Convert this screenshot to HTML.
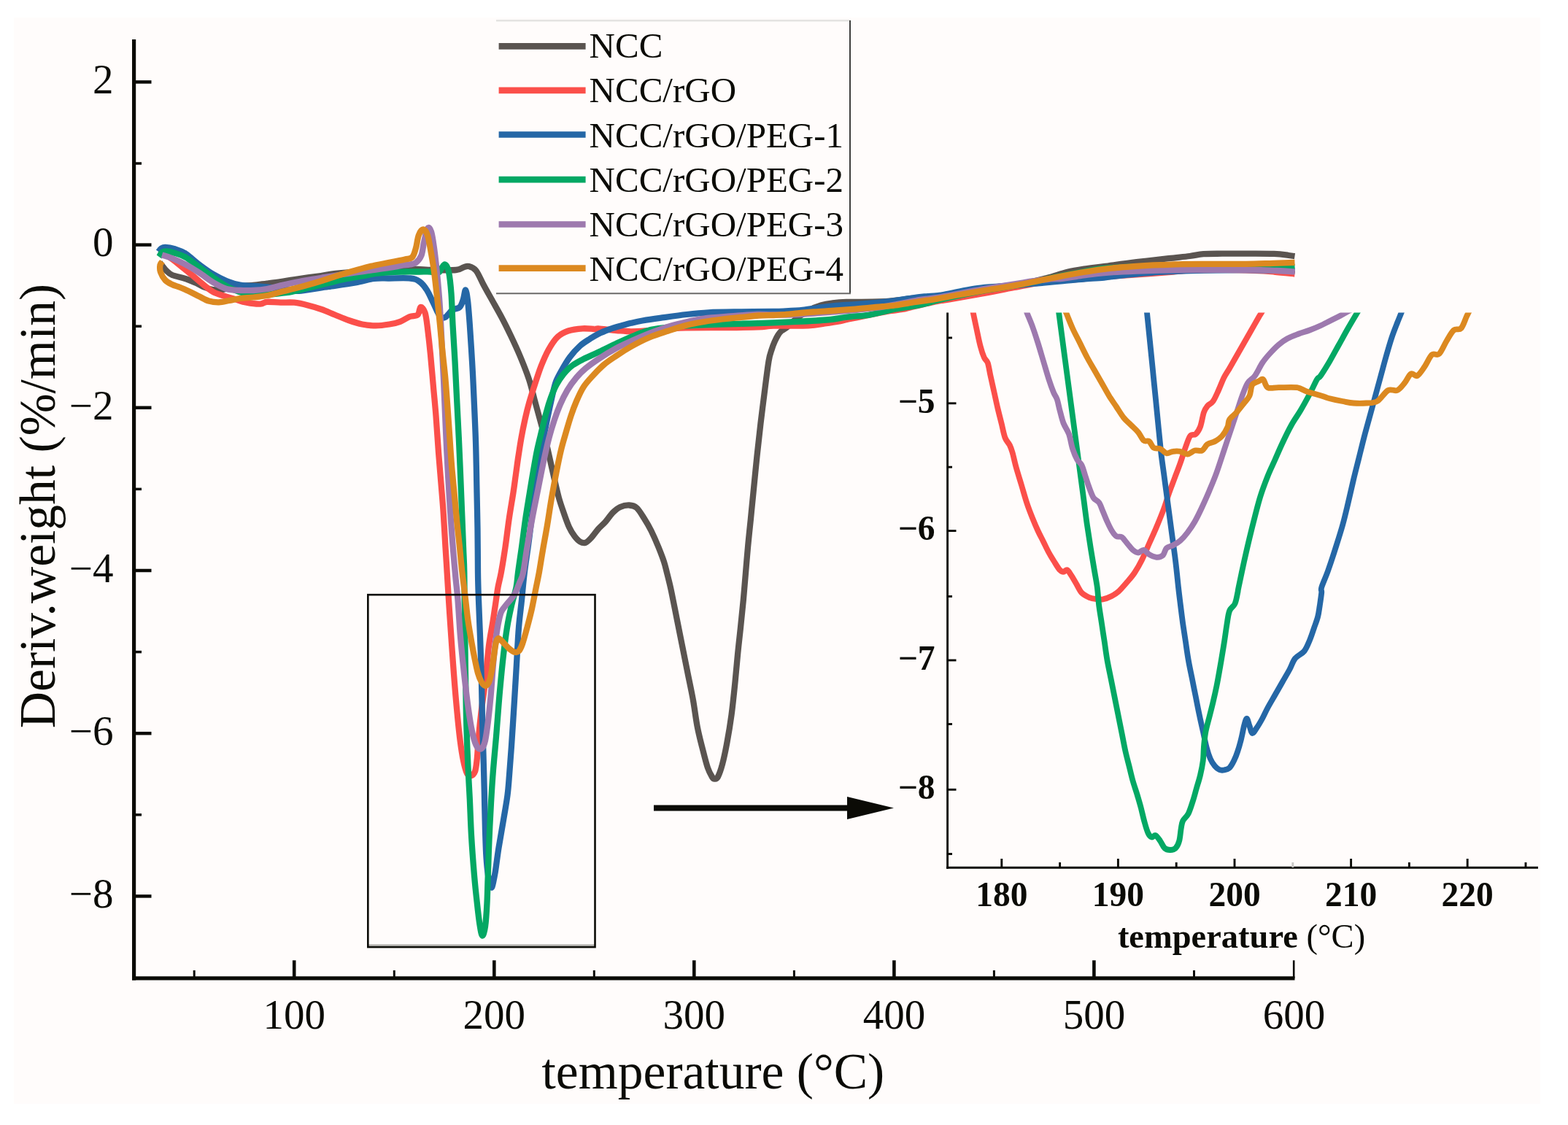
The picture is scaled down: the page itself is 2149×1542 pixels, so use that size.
<!DOCTYPE html>
<html lang="en"><head><meta charset="utf-8"><title>DTG curves</title>
<style>
html,body{margin:0;padding:0;background:#fff;}
body{width:2149px;height:1542px;overflow:hidden;position:relative;font-family:"Liberation Serif",serif;}
#chart{position:absolute;left:0;top:0;width:2149px;height:1542px;display:block;}
#chart text{font-family:"Liberation Serif",serif;fill:#0b0b06;}
.tk{font-size:57px;}
.ttl{font-size:69.5px;}
.lg{font-size:49px;}
.itk{font-size:47.5px;font-weight:bold;}
.ittl{font-size:46.5px;font-weight:bold;}
.curve{fill:none;stroke-width:8.3;stroke-linejoin:round;stroke-linecap:butt;}
</style></head><body>
<svg id="chart" width="2149" height="1542" viewBox="0 0 2149 1542">
<rect x="0" y="0" width="2149" height="1542" fill="#ffffff"/>
<rect x="19" y="24" width="2092" height="1489" fill="#fffcfb"/>
<g id="legend">
<line x1="680" y1="28.3" x2="1166" y2="28.3" stroke="#e4e3e1" stroke-width="2.6"/>
<line x1="1165" y1="28" x2="1165" y2="403" stroke="#3f3f3d" stroke-width="2"/>
<line x1="680" y1="402.3" x2="1166" y2="402.3" stroke="#6b6a68" stroke-width="2"/>
<line x1="683.6" y1="63.4" x2="802.6" y2="63.4" stroke="#5a5450" stroke-width="8.6" stroke-linecap="butt"/>
<text class="lg" x="807.6" y="78.8">NCC</text>
<line x1="683.6" y1="123.9" x2="802.6" y2="123.9" stroke="#fb4f4a" stroke-width="8.6" stroke-linecap="butt"/>
<text class="lg" x="807.6" y="140">NCC/rGO</text>
<line x1="683.6" y1="184.5" x2="802.6" y2="184.5" stroke="#2567a6" stroke-width="8.6" stroke-linecap="butt"/>
<text class="lg" x="807.6" y="202">NCC/rGO/PEG-1</text>
<line x1="683.6" y1="246.1" x2="802.6" y2="246.1" stroke="#03a864" stroke-width="8.6" stroke-linecap="butt"/>
<text class="lg" x="807.6" y="262.5">NCC/rGO/PEG-2</text>
<line x1="683.6" y1="307.5" x2="802.6" y2="307.5" stroke="#9d79ae" stroke-width="8.6" stroke-linecap="butt"/>
<text class="lg" x="807.6" y="323.8">NCC/rGO/PEG-3</text>
<line x1="683.6" y1="367.6" x2="802.6" y2="367.6" stroke="#dc8920" stroke-width="8.6" stroke-linecap="butt"/>
<text class="lg" x="807.6" y="385">NCC/rGO/PEG-4</text>
</g>
<g id="main-curves">
<path class="curve" stroke="#5a5450" d="M219 360C220.5 361.8 225.2 368.2 228 371C230.8 373.8 231.7 375.2 236 377C240.3 378.8 248.5 380.2 254 382C259.5 383.8 264.5 386 269 388C273.5 390 277.2 392.5 281 394C284.8 395.5 288 396.5 292 397C296 397.5 300.3 397.7 305 397C309.7 396.3 313 394 320 393C327 392 339.3 391.8 347 391C354.7 390.2 359.7 389.3 366 388.5C372.3 387.7 378.7 386.9 385 386C391.3 385.1 394.8 384.3 404 383C413.2 381.7 430.7 379.3 440 378C449.3 376.7 450 376 460 375C470 374 486.7 372.8 500 372C513.3 371.2 529.7 370.6 540 370C550.3 369.4 553.7 368.5 562 368.5C570.3 368.5 579.5 369.8 590 370C600.5 370.2 617.5 370.6 625 370C632.5 369.4 632.1 367.3 635 366.5C637.9 365.7 639.6 364.2 642.5 365C645.4 365.8 649.2 366.8 652.5 371C655.8 375.2 658.8 383.1 662.5 390C666.2 396.9 670.8 405 675 412.5C679.2 420 683.3 427.1 687.5 435C691.7 442.9 695.8 451.2 700 460C704.2 468.8 708.3 477.5 712.5 487.5C716.7 497.5 721.7 510 725 520C728.3 530 730 538.3 732.5 547.5C735 556.7 737.5 565.8 740 575C742.5 584.2 745.2 593.3 747.5 602.5C749.8 611.7 751.7 620.8 753.8 630C755.8 639.2 758 648.8 760 657.5C762 666.2 763.9 675 766 682.5C768.1 690 770.2 695.8 772.5 702.5C774.8 709.2 777.5 717.1 780 722.5C782.5 727.9 785 731.7 787.5 735C790 738.3 792.5 741 795 742.5C797.5 744 800 744.6 802.5 743.8C805 742.9 807.1 740.6 810 737.5C812.9 734.4 816.7 728.8 820 725C823.3 721.2 826.7 718.8 830 715C833.3 711.2 836.7 705.8 840 702.5C843.3 699.2 846.2 696.7 850 695C853.8 693.3 858.8 692.3 862.5 692.5C866.2 692.7 869.2 693.1 872.5 696C875.8 698.9 879.2 704.8 882.5 710C885.8 715.2 889.2 720.8 892.5 727.5C895.8 734.2 899.6 742.9 902.5 750C905.4 757.1 908.1 764.2 910 770C911.9 775.8 912.3 778.3 914 785C915.7 791.7 917.8 799.6 920 810C922.2 820.4 925 835 927.5 847.5C930 860 932.5 872.5 935 885C937.5 897.5 940 910 942.5 922.5C945 935 947.8 947.5 950 960C952.2 972.5 953.7 985.8 956 997.5C958.3 1009.2 961.4 1020.8 963.8 1030C966.1 1039.2 968 1046.7 970 1052.5C972 1058.3 974.5 1062.5 976 1065C977.5 1067.5 978 1067.5 979.2 1067.5C980.5 1067.5 982 1068.3 983.8 1065C985.5 1061.7 988 1055 990 1047.5C992 1040 993.9 1031.2 996 1020C998.1 1008.8 1000.6 994.2 1002.5 980C1004.4 965.8 1006.1 948.8 1007.5 935C1008.9 921.2 1009.8 910 1011 897.5C1012.2 885 1013.7 872.5 1015 860C1016.3 847.5 1017.6 835 1018.8 822.5C1019.9 810 1021 797.1 1022 785C1023 772.9 1023.9 762.1 1025 750C1026.1 737.9 1027.5 725 1028.8 712.5C1030 700 1031 689.6 1032.5 675C1034 660.4 1035.8 640.8 1037.5 625C1039.2 609.2 1040.8 594.2 1042.5 580C1044.2 565.8 1045.7 554.2 1047.5 540C1049.3 525.8 1051.8 505.3 1053.5 495C1055.2 484.7 1056.6 482.6 1058 478C1059.4 473.4 1060.6 470.8 1062 467.6C1063.4 464.4 1065 461.4 1066.5 459C1068 456.6 1069.1 455.2 1071 453.5C1072.9 451.8 1074.8 451.6 1078 449C1081.2 446.4 1084.7 442.1 1090 438C1095.3 433.9 1104.2 427.8 1110 424.5C1115.8 421.2 1120 420 1125 418.5C1130 417 1134.2 416.2 1140 415.5C1145.8 414.8 1149.2 414.3 1160 414C1170.8 413.7 1193.3 413.9 1205 413.5C1216.7 413.1 1222.5 412.2 1230 411.5C1237.5 410.8 1240 410.1 1250 409C1260 407.9 1274 407 1290 405C1306 403 1327.4 399.8 1346 397C1364.6 394.2 1386.9 391.2 1401.7 388.5C1416.5 385.8 1424.8 383.6 1435 381C1445.2 378.4 1453.8 375 1463 372.8C1472.2 370.6 1481.7 369.3 1490 368C1498.3 366.7 1501.7 366.7 1513 365.2C1524.3 363.7 1542.9 361 1557.7 359.2C1572.5 357.4 1589.6 355.6 1601.7 354.2C1613.8 352.8 1622.6 352 1630.6 351C1638.5 350 1642 348.8 1649.4 348.2C1656.8 347.6 1666.6 347.8 1675 347.7C1683.4 347.6 1688.2 347.7 1700 347.7C1711.8 347.7 1735 347.5 1746 347.9C1757 348.3 1761.2 349.4 1766 350C1770.8 350.6 1773.1 351 1774.5 351.2"/>
<path class="curve" stroke="#fb4f4a" d="M217 346C218.3 346.3 221.7 346.3 225 348C228.3 349.7 232.7 352.8 237 356C241.3 359.2 246.2 363.4 250.7 367C255.2 370.6 259.4 373.9 263.8 377.5C268.2 381.1 272.2 384.9 276.8 388.6C281.4 392.3 286.7 397 291.7 399.8C296.7 402.6 301.6 403.7 306.6 405.4C311.7 407.1 316.8 408.4 322 410C327.2 411.6 332.2 413.6 338 414.7C343.8 415.8 352.1 416.8 356.8 416.6C361.5 416.5 361.4 414.1 366 413.8C370.6 413.5 378.5 414.6 384.7 414.7C390.9 414.8 397.2 414.1 403.4 414.7C409.6 415.3 415.8 416.8 422 418.4C428.2 419.9 434.4 421.8 440.6 424C446.8 426.2 452.8 429 459 431.5C465.2 434 471.6 436.8 477.8 439C484 441.2 490.2 443.3 496.4 444.5C502.6 445.7 508.8 446.4 515 446.4C521.2 446.4 528 445.4 533.6 444.5C539.2 443.6 543.8 442.6 548.5 440.8C553.2 439.1 557.6 435.6 561.6 434C565.6 432.4 570 433.7 572.5 431.5C575 429.3 574.8 421.5 576.5 421C578.2 420.5 580.9 423.7 582.5 428.5C584.1 433.3 584.8 440.4 586 450C587.2 459.6 588.7 472.9 590 486C591.3 499.1 592.5 514.5 593.8 528.5C595 542.5 596.3 554.8 597.5 570C598.7 585.2 599.8 604.6 601 620C602.2 635.4 603.4 649.2 604.5 662.5C605.6 675.8 606.5 685.4 607.5 700C608.5 714.6 609.6 735.8 610.5 750C611.4 764.2 612 772.9 612.7 785C613.5 797.1 614.2 810 615 822.5C615.8 835 616.5 845.4 617.5 860C618.5 874.6 619.8 893.3 621 910C622.2 926.7 623.5 943.3 625 960C626.5 976.7 628.3 996.2 630 1010C631.7 1023.8 633.3 1034.2 635 1042.5C636.7 1050.8 638.3 1056.5 640 1060C641.7 1063.5 643.2 1063.9 645 1063.5C646.8 1063.1 649.5 1061.4 651 1057.5C652.5 1053.6 652.9 1047.9 653.8 1040C654.6 1032.1 655 1021.3 656 1010C657 998.7 658.5 984.5 660 972C661.5 959.5 663.3 949.5 665 935C666.7 920.5 668.3 898.3 670 885C671.7 871.7 673.5 864.2 675 855C676.5 845.8 677.5 838.3 678.8 830C680 821.7 681.2 812.5 682.5 805C683.8 797.5 685.1 794.2 686.8 785C688.5 775.8 690.7 762.1 692.5 750C694.3 737.9 695.7 725 697.5 712.5C699.3 700 701.9 685.4 703.5 675C705.1 664.6 705.8 658.3 707 650C708.2 641.7 709.2 633.3 710.5 625C711.8 616.7 713 608.3 714.5 600C716 591.7 717.7 583.2 719.5 575C721.3 566.8 723.2 559 725.5 551C727.8 543 730.3 535.2 733 527C735.7 518.8 738.4 509.9 741.5 502C744.6 494.1 748 486.1 751.7 479.4C755.5 472.7 759.5 466.3 764 462C768.5 457.7 773 455.4 778.8 453.5C784.5 451.6 792.5 450.7 798.5 450.3C804.5 449.9 811.4 451 815 451C818.6 451 815 450.1 820 450.4C825 450.7 837.5 452.4 845 453C852.5 453.6 857.5 454.3 865 454.3C872.5 454.3 880.8 453.6 890 453C899.2 452.4 911.7 451.1 920 450.5C928.3 449.9 926.7 449.6 940 449.3C953.3 449.1 982.5 449.2 1000 449C1017.5 448.8 1035 448.4 1045 448C1055 447.6 1049.5 446.9 1060 446.6C1070.5 446.3 1096.3 446.8 1108 446.3C1119.7 445.8 1123.1 444.5 1130.4 443.5C1137.7 442.5 1146.2 441.2 1151.6 440.2C1157 439.2 1158.4 438.3 1162.7 437.4C1167 436.5 1170.2 436 1177.3 434.6C1184.3 433.2 1197.9 430.4 1205 429C1212.1 427.6 1214.5 427 1219.7 426.2C1225 425.4 1231.5 424.9 1236.5 424C1241.5 423.1 1244.1 422.1 1250 420.7C1255.9 419.3 1265.3 417.1 1272 415.6C1278.7 414.2 1285.2 412.9 1290 412C1294.8 411.1 1291.7 412.1 1301 410.5C1310.3 408.9 1331.2 405.2 1346 402.5C1360.8 399.8 1376 396.6 1390 394C1404 391.4 1415 388.7 1430 386.8C1445 384.9 1463 383.9 1480 382.5C1497 381.1 1516 379.4 1532 378.2C1548 376.9 1563.3 375.9 1576 375C1588.7 374.1 1598.5 373.3 1608 372.5C1617.5 371.7 1621.3 370.8 1633 370.3C1644.7 369.9 1663.5 369.7 1678 369.8C1692.5 369.9 1708.7 370.4 1720 370.8C1731.3 371.2 1736.9 371.7 1746 372.5C1755.1 373.3 1769.8 375 1774.5 375.5"/>
<path class="curve" stroke="#2567a6" d="M217.2 345C217.8 344.2 219.4 341.5 221 340.5C222.6 339.5 223.4 338.7 226.5 338.8C229.6 338.9 234.9 339.7 239.6 341.2C244.3 342.7 248.9 344.1 254.5 347.7C260.1 351.3 266.8 358 273 362.6C279.2 367.2 285.5 371.9 291.7 375.6C297.9 379.3 304.1 382.5 310.3 385C316.5 387.5 319.7 389.1 329 390.5C338.3 391.9 354.2 392.2 366 393.5C377.8 394.8 392.2 397.2 400 398C407.8 398.8 404.4 399.3 412.7 398.5C421 397.7 437.6 394.8 450 393C462.4 391.2 476.6 389.3 487 387.5C497.4 385.7 504.7 383 512.5 382C520.3 381 525.3 381.6 533.6 381.5C541.9 381.4 555.6 380.8 562.5 381.5C569.4 382.2 571.2 383.3 575 386C578.8 388.7 581.9 392.7 585 397.5C588.1 402.3 590.8 409.2 593.8 415C596.7 420.8 599.8 429.2 602.5 432.5C605.2 435.8 607.1 436.2 610 435C612.9 433.8 616.7 427.3 620 425C623.3 422.7 627.5 423.5 630 421C632.5 418.5 633.7 413.9 635 410C636.3 406.1 637 397.2 638 397.5C639 397.8 640 404.1 641 412C642 419.9 642.8 431.2 643.8 445C644.8 458.8 646 478.3 647 495C648 511.7 648.7 526.7 649.5 545C650.3 563.3 651.3 583.3 652 605C652.7 626.7 653.1 655 653.5 675C653.9 695 654.2 706.7 654.5 725C654.8 743.3 654.8 768.8 655 785C655.2 801.2 655.5 807.9 656 822.5C656.5 837.1 657.3 853.8 658 872.5C658.7 891.2 659.5 916.2 660 935C660.5 953.8 660.6 968.3 661 985C661.4 1001.7 662 1018.3 662.5 1035C663 1051.7 663.3 1067.9 663.8 1085C664.2 1102.1 664.5 1122.5 665 1137.5C665.5 1152.5 665.8 1164.6 666.5 1175C667.2 1185.4 668.1 1193.8 669 1200C669.9 1206.2 671.1 1209.4 672 1212C672.9 1214.6 673.4 1218.3 674.5 1215.5C675.6 1212.7 677.2 1203.9 678.8 1195C680.2 1186.1 681.6 1173.8 683.5 1162C685.4 1150.2 688 1136 690 1124C692 1112 694.2 1100.2 695.5 1090C696.8 1079.8 697.1 1073.8 698 1062.5C698.9 1051.2 699.8 1039.6 701 1022.5C702.2 1005.4 703.8 978.8 705 960C706.2 941.2 707 926.7 708 910C709 893.3 709.8 874.6 711 860C712.2 845.4 713.7 835 715 822.5C716.3 810 717.1 798.8 718.8 785C720.4 771.2 722.3 760.8 725 740C727.7 719.2 731.7 683.3 735 660C738.3 636.7 741.4 619.4 745 600C748.6 580.6 753.9 556.1 756.7 543.4C759.5 530.7 759.6 529.7 761.6 524C763.6 518.3 765.8 514.8 769 509C772.2 503.2 776.7 495.3 781 489.5C785.3 483.7 790.4 478.2 795 474C799.6 469.8 804.3 467.2 808.5 464.5C812.7 461.8 815.6 459.9 820 457.7C824.4 455.5 830 453.3 835 451.5C840 449.7 845.2 448.2 850.2 446.8C855.2 445.4 860 444 865 442.8C870 441.6 873.9 440.6 880.5 439.5C887.1 438.4 894.6 437.3 904.7 435.9C914.8 434.5 929.9 432.3 941 431C952.1 429.7 959.1 428.9 971.2 428.3C983.3 427.7 998.8 427.6 1013.6 427.4C1028.4 427.2 1049.4 427.1 1060 427C1070.6 426.9 1070.3 426.8 1077 426.5C1083.7 426.2 1092.7 425.8 1100 425C1107.3 424.2 1113.7 423 1121 422C1128.3 421 1133.7 420.1 1144 419.2C1154.3 418.3 1169.2 417.6 1183 416.4C1196.8 415.2 1215.8 413.3 1227 412C1238.2 410.7 1243.3 409.4 1250 408.5C1256.7 407.6 1260.3 407.2 1267 406.5C1273.7 405.8 1282 405.7 1290 404.5C1298 403.3 1306.7 401.1 1315 399.5C1323.3 397.9 1330.8 396.2 1340 395C1349.2 393.8 1360 393.2 1370 392.5C1380 391.8 1390 391.3 1400 390.5C1410 389.7 1420.5 388.4 1430 387.5C1439.5 386.6 1447.8 385.8 1457 385C1466.2 384.2 1475.7 383.2 1485 382.5C1494.3 381.8 1505.2 381.2 1513 380.5C1520.8 379.8 1524.5 378.8 1532 378C1539.5 377.2 1547.2 376.4 1557.7 375.5C1568.2 374.6 1579.6 373.3 1595 372.5C1610.4 371.7 1631.2 370.9 1650 370.5C1668.8 370.1 1687.2 369.9 1708 370C1728.8 370.1 1763.4 370.8 1774.5 371"/>
<path class="curve" stroke="#03a864" d="M218 352C218.7 351 220.3 347.2 222 346C223.7 344.8 225 344.3 228 344.5C231 344.7 235.5 345.6 240 347C244.5 348.4 249.5 349.8 255 353C260.5 356.2 266.8 361.5 273 366C279.2 370.5 286.7 376.2 292 380C297.3 383.8 300.3 386.2 305 389C309.7 391.8 315 394.8 320 397C325 399.2 329.2 400.8 335 402C340.8 403.2 347.5 403.9 355 404C362.5 404.1 372.5 403.2 380 402.5C387.5 401.8 392.5 401.4 400 400C407.5 398.6 416.7 396 425 394C433.3 392 441.7 390 450 388C458.3 386 467.3 383.6 475 382C482.7 380.4 489.3 379.7 496 378.5C502.7 377.3 508.7 375.9 515 375C521.3 374.1 527.3 373.4 534 373C540.7 372.6 548.2 372.6 555 372.5C561.8 372.4 569.2 372.5 575 372.5C580.8 372.5 586.2 372.2 590 372.5C593.8 372.8 596 373.9 598 374C600 374.1 600.8 374 602 373C603.2 372 603.7 369.8 605 368C606.3 366.2 608.3 361.8 610 362.5C611.7 363.2 613.6 365.8 615 372.5C616.4 379.2 617.6 390.4 618.5 402.5C619.4 414.6 619.7 429.6 620.5 445C621.3 460.4 622.6 478.3 623.5 495C624.4 511.7 625.1 527.5 626 545C626.9 562.5 627.9 582.5 628.8 600C629.6 617.5 630.3 633.3 631 650C631.7 666.7 632.3 683.3 633 700C633.7 716.7 634.5 735.8 635 750C635.5 764.2 636 768.3 636.3 785C636.6 801.7 636.6 818.8 637 850C637.4 881.2 638.1 940.8 638.8 972.5C639.4 1004.2 640.2 1019.6 641 1040C641.8 1060.4 642.9 1077.5 643.8 1095C644.6 1112.5 645 1127.5 646 1145C647 1162.5 648.7 1184.6 650 1200C651.3 1215.4 652.5 1226.2 653.8 1237.5C655 1248.8 656.3 1260 657.5 1267.5C658.7 1275 659.8 1282.1 661 1282.5C662.2 1282.9 663.9 1277.5 665 1270C666.1 1262.5 666.9 1249.2 667.5 1237.5C668.1 1225.8 668.2 1214.6 668.8 1200C669.2 1185.4 669.8 1166.7 670.5 1150C671.2 1133.3 672.1 1115.8 673 1100C673.9 1084.2 674.8 1070 676 1055C677.2 1040 678.5 1027.9 680 1010C681.5 992.1 683.3 966.2 685 947.5C686.7 928.8 688.3 912.1 690 897.5C691.7 882.9 693.2 871.2 695 860C696.8 848.8 698.9 839.2 701 830C703.1 820.8 706 812.5 707.5 805C709 797.5 708.8 794.2 710 785C711.2 775.8 713.3 762.1 715 750C716.7 737.9 718.2 725 720 712.5C721.8 700 724.2 686.2 726 675C727.8 663.8 729.3 654.6 731 645C732.7 635.4 734.1 626.7 736 617.5C737.9 608.3 740.4 598.8 742.5 590C744.6 581.2 746.7 572.5 748.8 565C750.8 557.5 752.7 551.2 755 545C757.3 538.8 759.6 532.9 762.5 527.5C765.4 522.1 768.8 517 772.5 512.5C776.2 508 780.4 503.9 785 500.5C789.6 497.1 794.2 494.9 800 492C805.8 489.1 812.7 486.3 820 482.8C827.3 479.3 835.9 474.9 844 471.2C852.1 467.4 860.3 463.5 868.4 460.3C876.5 457.1 884 453.9 892.6 451.9C901.2 449.8 910.4 449 920 448C929.6 447 940 446.5 950 446C960 445.5 969.4 445.2 980 444.8C990.6 444.4 1000.3 444.2 1013.6 443.8C1026.9 443.4 1045.6 442.9 1060 442.4C1074.4 441.8 1087 441.2 1100 440.5C1113 439.8 1127.9 439 1138 438C1148.1 437 1151.7 435.6 1160.5 434.6C1169.3 433.6 1182.5 433 1190.7 431.8C1199 430.6 1203.9 428.9 1210 427.5C1216.1 426.1 1219 425.1 1227.5 423.5C1236 421.9 1250.6 420.2 1261 418C1271.4 415.8 1275.8 413.7 1290 410.5C1304.2 407.3 1327.4 402.5 1346 399C1364.6 395.5 1383.1 393.1 1401.7 389.5C1420.3 385.9 1443.6 380.3 1457.5 377.5C1471.4 374.7 1475.8 374.1 1485 372.5C1494.2 370.9 1501 369.2 1513 368C1525 366.8 1539.2 366.1 1557 365.5C1574.8 364.9 1594.8 364.6 1620 364.5C1645.2 364.4 1682.2 364.8 1708 365C1733.8 365.2 1763.4 365.8 1774.5 365.9"/>
<path class="curve" stroke="#9d79ae" d="M222 349.5C224.3 350.2 230.4 351.8 235.8 354C241.2 356.2 248.3 359.3 254.5 362.6C260.7 365.9 266.8 369.8 273 373.8C279.2 377.8 285.5 383.1 291.7 386.8C297.9 390.5 304.1 394.1 310.3 396C316.5 397.9 322.8 397.7 329 398C335.2 398.3 341.3 398.3 347.5 398C353.7 397.7 359.8 397.1 366 396C372.2 394.9 377.4 393.1 384.7 391.4C392 389.7 400.8 387.7 410 386C419.2 384.3 430 382.7 440 381C450 379.3 459.1 377.7 470 376C480.9 374.3 495.1 372.5 505.7 371C516.3 369.5 526.2 368.2 533.6 367C541 365.8 545.3 364.8 550 364C554.7 363.2 558.3 363.2 561.6 362.5C564.9 361.8 567.4 362.1 570 360C572.6 357.9 575.7 354.6 577.5 350C579.3 345.4 579.6 338.7 581 332.5C582.4 326.3 584.3 315.5 586 313C587.7 310.5 589.5 313 591 317.5C592.5 322 593.7 330.8 595 340C596.3 349.2 597.5 360 598.8 372.5C600 385 601.5 400.4 602.5 415C603.5 429.6 604.1 442.5 605 460C605.9 477.5 607 498.3 608 520C609 541.7 610 568.3 611 590C612 611.7 612.7 627.5 614 650C615.3 672.5 617.1 702.5 618.8 725C620.4 747.5 622.3 768.8 623.8 785C625.2 801.2 626.3 807.9 627.5 822.5C628.7 837.1 629.6 855.8 631 872.5C632.4 889.2 634.3 907.1 636 922.5C637.7 937.9 639.3 952.5 641 965C642.7 977.5 644.3 988.8 646 997.5C647.7 1006.2 649.3 1012.8 651 1017.5C652.7 1022.2 654.3 1024.8 656 1026C657.7 1027.2 659.5 1026.8 661 1025C662.5 1023.2 663.7 1020.8 665 1015C666.3 1009.2 667.5 1000 668.8 990C670 980 671.3 968.3 672.5 955C673.7 941.7 674.8 923.8 676 910C677.2 896.2 678.7 882.5 680 872.5C681.3 862.5 682.5 855.8 683.8 850C685 844.2 685.6 841.2 687.5 837.5C689.4 833.8 692.1 831.2 695 827.5C697.9 823.8 702.1 820 705 815C707.9 810 710.5 802.5 712.5 797.5C714.5 792.5 715.3 792.9 717 785C718.7 777.1 720.3 762.9 722.5 750C724.7 737.1 727.5 720.8 730 707.5C732.5 694.2 735 682.5 737.5 670C740 657.5 742.5 644.2 745 632.5C747.5 620.8 750 609.6 752.5 600C755 590.4 757.5 582.5 760 575C762.5 567.5 764.6 561.7 767.5 555C770.4 548.3 773.8 541.2 777.5 535C781.2 528.8 785.8 522.5 790 517.5C794.2 512.5 797.5 509.2 802.5 505C807.5 500.8 813.1 496.8 820 492.2C826.9 487.6 835.9 482 844 477.6C852.1 473.2 860.3 469.7 868.4 466.1C876.5 462.5 884.5 459 892.6 455.9C900.7 452.8 908.7 449.8 916.8 447.4C924.9 445 933 443.1 941 441.3C949 439.5 954.9 437.8 965 436.5C975.1 435.2 989.4 434.4 1001.5 433.5C1013.6 432.6 1028 431.3 1037.8 431C1047.5 430.7 1050.8 431.5 1060 431.5C1069.2 431.5 1079.7 431.7 1093 431C1106.3 430.3 1126.8 428.5 1140 427.5C1153.2 426.5 1162 425.9 1172 425C1182 424.1 1190.8 423.2 1200 422C1209.2 420.8 1217.8 419.2 1227 417.5C1236.2 415.8 1244.5 413.8 1255 412C1265.5 410.2 1274.8 409.6 1290 407C1305.2 404.4 1327.4 399.9 1346 396.6C1364.6 393.4 1386.9 389.8 1401.7 387.5C1416.5 385.2 1425.7 384 1435 383C1444.3 382 1449.2 382.4 1457.5 381.5C1465.8 380.6 1475.8 378.8 1485 377.5C1494.2 376.2 1501 375 1513 374C1525 373 1539.2 372.2 1557 371.5C1574.8 370.8 1594.8 370.2 1620 370C1645.2 369.8 1686.3 369.8 1708 370C1729.7 370.2 1738.9 370.6 1750 371C1761.1 371.4 1770.4 372.2 1774.5 372.5"/>
<path class="curve" stroke="#dc8920" d="M222.5 358.5C222 359.2 219.9 360.6 219.5 363C219.1 365.4 218.8 369.5 220 373C221.2 376.5 223.8 381.2 226.5 384C229.2 386.8 232.6 388.3 236 390C239.4 391.7 242.6 392.2 247 394C251.4 395.8 258.2 398.9 262.5 401C266.8 403.1 269.1 404.4 273 406.3C276.9 408.2 281.5 411.2 286 412.5C290.5 413.8 295.3 414.4 300 414.3C304.7 414.2 309.2 412.9 314 412C318.8 411.1 323.4 409.8 329 409C334.6 408.2 341.3 408.2 347.5 407.5C353.7 406.8 359.4 406.3 366 405C372.6 403.7 380.8 401.1 387 399.5C393.2 397.9 397.6 397 403.4 395.5C409.2 394 415.8 392.2 422 390.5C428.2 388.8 433.9 387.1 440.6 385C447.3 382.9 454.2 380.4 462 378C469.8 375.6 479.1 372.8 487.5 370.5C495.9 368.2 504.2 365.9 512.5 364C520.8 362.1 530.4 360.4 537.5 359C544.6 357.6 550.4 356.6 555 355.5C559.6 354.4 562.5 355.1 565 352.5C567.5 349.9 568.5 345 570 340C571.5 335 572.1 326.8 573.8 322.5C575.4 318.2 578 314.5 580 314.5C582 314.5 584.2 317 586 322.5C587.8 328 589.5 339.2 591 347.5C592.5 355.8 593.8 363.3 595 372.5C596.2 381.7 597.2 391.2 598.5 402.5C599.8 413.8 601.2 427.5 602.5 440C603.8 452.5 604.8 465 606 477.5C607.2 490 608.8 502.5 610 515C611.2 527.5 612 539.2 613 552.5C614 565.8 615 580.8 616 595C617 609.2 617.9 624.2 619 637.5C620.1 650.8 621.3 662.5 622.5 675C623.7 687.5 624.8 700 626 712.5C627.2 725 628.8 737.9 630 750C631.2 762.1 632.2 773.8 633.5 785C634.8 796.2 636.2 807.1 637.5 817.5C638.8 827.9 639.8 838.3 641 847.5C642.2 856.7 643.5 863.8 645 872.5C646.5 881.2 648.3 891.7 650 900C651.7 908.3 653.3 916.7 655 922.5C656.7 928.3 658.3 932.1 660 935C661.7 937.9 663.3 940 665 940C666.7 940 668.5 938.3 670 935C671.5 931.7 672.5 926.7 673.8 920C675 913.3 676.5 901.7 677.5 895C678.5 888.3 679 883.3 680 880C681 876.7 682.1 874.8 683.8 875C685.4 875.2 687.7 878.7 690 881C692.3 883.3 695 886.6 697.5 888.8C700 890.9 702.8 893.1 705 893.8C707.2 894.4 709.2 894.4 711 892.5C712.8 890.6 714.1 887.9 716 882.5C717.9 877.1 720.4 867.9 722.5 860C724.6 852.1 726.9 843.3 728.8 835C730.6 826.7 732.1 818.3 733.8 810C735.4 801.7 737.1 794.2 738.8 785C740.4 775.8 741.9 765.8 743.8 755C745.6 744.2 748 732.1 750 720C752 707.9 753.9 694.6 756 682.5C758.1 670.4 760.4 658.3 762.5 647.5C764.6 636.7 766.7 626.2 768.8 617.5C770.8 608.8 772.7 602.9 775 595C777.3 587.1 780 577.5 782.5 570C785 562.5 787.1 556.7 790 550C792.9 543.3 796.2 535.8 800 530C803.8 524.2 807.9 520 812.5 515C817.1 510 822.1 504.6 827.5 500C832.9 495.4 838.8 491.7 845 487.5C851.2 483.3 857.5 479.2 865 475C872.5 470.8 881.7 466 890 462.5C898.3 459 906.7 456.5 915 453.8C923.3 451 931.7 448.1 940 446C948.3 443.9 956.7 442.4 965 441C973.3 439.6 981.7 438.5 990 437.5C998.3 436.5 1006.7 435.8 1015 435C1023.3 434.2 1032.5 433 1040 432.5C1047.5 432 1053.8 432.2 1060 432C1066.2 431.8 1071.5 431.4 1077 431C1082.5 430.6 1086.5 430.1 1093 429.5C1099.5 428.9 1108.2 428.1 1116 427.5C1123.8 426.9 1130.7 426.6 1140 426C1149.3 425.4 1162 424.4 1172 423.6C1182 422.8 1190.8 421.9 1200 421C1209.2 420.1 1217.8 419.7 1227 418.5C1236.2 417.3 1245.7 415.4 1255 414C1264.3 412.6 1273 411.5 1283 409.8C1293 408.1 1304.5 405.9 1315 404C1325.5 402.1 1336 400.3 1346 398.6C1356 396.9 1365.7 395.5 1375 394C1384.3 392.5 1392.5 391.1 1401.7 389.4C1410.9 387.6 1420.7 385.4 1430 383.5C1439.3 381.6 1448.3 379.8 1457.5 378C1466.7 376.2 1475.8 374.5 1485 373C1494.2 371.5 1504.7 369.9 1513 368.8C1521.3 367.7 1527.5 367.2 1535 366.5C1542.5 365.8 1548.5 365.4 1557.7 364.8C1566.9 364.2 1579.6 363.6 1590 363.2C1600.4 362.8 1607.5 362.3 1620 362.1C1632.5 361.9 1650.3 361.9 1665 361.8C1679.7 361.8 1694.7 362 1708 361.8C1721.3 361.6 1733.9 361.1 1745 360.8C1756.1 360.5 1769.6 360 1774.5 359.8"/>
</g>
<g id="main-axes" stroke="#0b0b06" fill="none">
<line x1="183.6" y1="54" x2="183.6" y2="1343.6" stroke-width="5.2"/>
<line x1="181" y1="1340.9" x2="1774.5" y2="1340.9" stroke-width="5.4"/>
<line x1="184" y1="112.4" x2="207.5" y2="112.4" stroke-width="4.5"/>
<line x1="184" y1="335.6" x2="207.5" y2="335.6" stroke-width="4.5"/>
<line x1="184" y1="558.8" x2="207.5" y2="558.8" stroke-width="4.5"/>
<line x1="184" y1="782" x2="207.5" y2="782" stroke-width="4.5"/>
<line x1="184" y1="1005.2" x2="207.5" y2="1005.2" stroke-width="4.5"/>
<line x1="184" y1="1228.4" x2="207.5" y2="1228.4" stroke-width="4.5"/>
<line x1="184" y1="224" x2="194" y2="224" stroke-width="3.5"/>
<line x1="184" y1="447.2" x2="194" y2="447.2" stroke-width="3.5"/>
<line x1="184" y1="670.4" x2="194" y2="670.4" stroke-width="3.5"/>
<line x1="184" y1="893.6" x2="194" y2="893.6" stroke-width="3.5"/>
<line x1="184" y1="1116.8" x2="194" y2="1116.8" stroke-width="3.5"/>
<line x1="403.2" y1="1316.3" x2="403.2" y2="1341" stroke-width="4.6"/>
<line x1="677.3" y1="1316.3" x2="677.3" y2="1341" stroke-width="4.6"/>
<line x1="951.3" y1="1316.3" x2="951.3" y2="1341" stroke-width="4.6"/>
<line x1="1225.4" y1="1316.3" x2="1225.4" y2="1341" stroke-width="4.6"/>
<line x1="1499.4" y1="1316.3" x2="1499.4" y2="1341" stroke-width="4.6"/>
<line x1="1773.2" y1="1316.3" x2="1773.2" y2="1341" stroke-width="2.6"/>
<line x1="266.2" y1="1330" x2="266.2" y2="1341" stroke-width="3"/>
<line x1="540.3" y1="1330" x2="540.3" y2="1341" stroke-width="3"/>
<line x1="814.3" y1="1330" x2="814.3" y2="1341" stroke-width="3"/>
<line x1="1088.4" y1="1330" x2="1088.4" y2="1341" stroke-width="3"/>
<line x1="1362.4" y1="1330" x2="1362.4" y2="1341" stroke-width="3"/>
<line x1="1636.5" y1="1330" x2="1636.5" y2="1341" stroke-width="3"/>
</g>
<g id="main-labels">
<text class="tk" text-anchor="end" x="155.5" y="128.2">2</text>
<text class="tk" text-anchor="end" x="155.5" y="351.4">0</text>
<text class="tk" text-anchor="end" x="155.5" y="574.6">−2</text>
<text class="tk" text-anchor="end" x="155.5" y="797.8">−4</text>
<text class="tk" text-anchor="end" x="155.5" y="1021">−6</text>
<text class="tk" text-anchor="end" x="155.5" y="1244.2">−8</text>
<text class="tk" text-anchor="middle" x="403.2" y="1410.3">100</text>
<text class="tk" text-anchor="middle" x="677.3" y="1410.3">200</text>
<text class="tk" text-anchor="middle" x="951.3" y="1410.3">300</text>
<text class="tk" text-anchor="middle" x="1225.4" y="1410.3">400</text>
<text class="tk" text-anchor="middle" x="1499.4" y="1410.3">500</text>
<text class="tk" text-anchor="middle" x="1773.5" y="1410.3">600</text>
<text class="ttl" text-anchor="middle" x="977.4" y="1491.8">temperature (°C)</text>
<text class="ttl" text-anchor="middle" transform="translate(75 693.5) rotate(-90)">Deriv.weight (%/min)</text>
</g>
<line x1="504" y1="1295.4" x2="816" y2="1295.4" stroke="#a9a8a4" stroke-width="2"/>
<rect x="504.3" y="815.2" width="311.2" height="482.9" fill="none" stroke="#0b0b06" stroke-width="2.6"/>
<line x1="896" y1="1107.5" x2="1170" y2="1107.5" stroke="#0b0b06" stroke-width="8"/>
<polygon points="1161,1092 1225,1107.5 1161,1123" fill="#0b0b06"/>
<defs><clipPath id="insetclip"><rect x="1300" y="428.6" width="812" height="762"/></clipPath></defs>
<g id="inset-curves" clip-path="url(#insetclip)">
<path class="curve" style="stroke-width:7.8" stroke="#fb4f4a" d="M1331.2 417C1331.6 419 1332.5 422.8 1333.8 428.8C1335 434.7 1337.1 444.8 1338.8 452.5C1340.4 460.2 1342.1 468.8 1343.8 475C1345.4 481.2 1347.1 486.2 1348.8 490C1350.4 493.8 1352.3 493.3 1353.8 497.5C1355.2 501.7 1356 508.3 1357.5 515C1359 521.7 1360.8 530 1362.5 537.5C1364.2 545 1365.8 552.9 1367.5 560C1369.2 567.1 1370.8 573.3 1372.5 580C1374.2 586.7 1375.6 595 1377.5 600C1379.4 605 1382.1 606.7 1383.8 610C1385.4 613.3 1386 615 1387.5 620C1389 625 1390.4 632.5 1392.5 640C1394.6 647.5 1397.5 656.7 1400 665C1402.5 673.3 1405 682.5 1407.5 690C1410 697.5 1412.5 703.8 1415 710C1417.5 716.2 1420 722.1 1422.5 727.5C1425 732.9 1427.5 737.5 1430 742.5C1432.5 747.5 1435 752.9 1437.5 757.5C1440 762.1 1442.5 766 1445 770C1447.5 774 1450.4 779 1452.5 781.2C1454.6 783.5 1455.8 783.8 1457.5 783.8C1459.2 783.8 1460.8 780.6 1462.5 781.2C1464.2 781.9 1465.4 784.4 1467.5 787.5C1469.6 790.6 1472.5 795.8 1475 800C1477.5 804.2 1479.6 809.4 1482.5 812.5C1485.4 815.6 1489.2 817.3 1492.5 818.8C1495.8 820.2 1499.2 820.8 1502.5 821.2C1505.8 821.7 1509.2 821.9 1512.5 821.2C1515.8 820.6 1519.2 819.2 1522.5 817.5C1525.8 815.8 1528.8 814.6 1532.5 811.2C1536.2 807.9 1541.2 801.9 1545 797.5C1548.8 793.1 1551.7 790 1555 785C1558.3 780 1561.7 774.2 1565 767.5C1568.3 760.8 1571.7 752.5 1575 745C1578.3 737.5 1581.7 730.4 1585 722.5C1588.3 714.6 1592.1 705.4 1595 697.5C1597.9 689.6 1600 682.1 1602.5 675C1605 667.9 1607.5 661.7 1610 655C1612.5 648.3 1615 642.1 1617.5 635C1620 627.9 1622.7 618.8 1625 612.5C1627.3 606.2 1629 600.4 1631.2 597.5C1633.5 594.6 1636.5 597.1 1638.8 595C1641 592.9 1643.1 590 1645 585C1646.9 580 1648.3 569.8 1650 565C1651.7 560.2 1652.9 558.8 1655 556.2C1657.1 553.8 1660 553.5 1662.5 550C1665 546.5 1667.5 540.4 1670 535C1672.5 529.6 1675 522.5 1677.5 517.5C1680 512.5 1682.1 510 1685 505C1687.9 500 1691.7 493.3 1695 487.5C1698.3 481.7 1701.7 475.8 1705 470C1708.3 464.2 1711.7 458.3 1715 452.5C1718.3 446.7 1722.7 439 1725 435C1727.3 431 1727.1 431.5 1728.8 428.8C1730.4 426 1733.8 420.1 1734.8 418.4"/>
<path class="curve" style="stroke-width:7.8" stroke="#2567a6" d="M1570.8 416.8C1571 418.8 1571.1 419.9 1572 428.8C1572.9 437.6 1574.7 454.8 1576.2 470C1577.8 485.2 1579.6 503.3 1581.2 520C1582.9 536.7 1584.6 553.3 1586.2 570C1587.9 586.7 1589.6 605.4 1591.2 620C1592.9 634.6 1594.6 645 1596.2 657.5C1597.9 670 1599.6 682.5 1601.2 695C1602.9 707.5 1604.6 720 1606.2 732.5C1607.9 745 1609.8 757.9 1611.2 770C1612.7 782.1 1613.9 795 1615 805C1616.1 815 1617 821.7 1618 830C1619 838.3 1620.1 846.7 1621.2 855C1622.4 863.3 1623.8 871.7 1625 880C1626.2 888.3 1627.3 896.7 1628.8 905C1630.2 913.3 1632.1 921.7 1633.8 930C1635.4 938.3 1637.1 946.7 1638.8 955C1640.4 963.3 1642.1 972.1 1643.8 980C1645.4 987.9 1647.1 995 1648.8 1002.5C1650.4 1010 1652.1 1018.8 1653.8 1025C1655.4 1031.2 1656.9 1035.8 1658.8 1040C1660.6 1044.2 1662.9 1047.5 1665 1050C1667.1 1052.5 1669.2 1054.1 1671.2 1055C1673.3 1055.9 1675.2 1055.9 1677.5 1055.5C1679.8 1055.1 1682.7 1054.7 1685 1052.5C1687.3 1050.3 1689.4 1046.2 1691.2 1042.5C1693.1 1038.8 1694.6 1035 1696.2 1030C1697.9 1025 1699.8 1018.3 1701.2 1012.5C1702.7 1006.7 1703.8 999.6 1705 995C1706.2 990.4 1707.5 985 1708.8 985C1710 985 1711.2 991.7 1712.5 995C1713.8 998.3 1714.6 1004.6 1716.2 1005C1717.9 1005.4 1720.2 1000.8 1722.5 997.5C1724.8 994.2 1727.5 989.6 1730 985C1732.5 980.4 1734.6 975.4 1737.5 970C1740.4 964.6 1744.2 958.3 1747.5 952.5C1750.8 946.7 1754.2 940.8 1757.5 935C1760.8 929.2 1764.6 922.9 1767.5 917.5C1770.4 912.1 1771.7 906.7 1775 902.5C1778.3 898.3 1784.2 896.7 1787.5 892.5C1790.8 888.3 1792.7 882.9 1795 877.5C1797.3 872.1 1799.4 865.4 1801.2 860C1803.1 854.6 1805 850 1806.2 845C1807.5 840 1807.9 835.4 1808.8 830C1809.6 824.6 1810.8 816.6 1811.2 812.5C1811.7 808.4 1809.8 810.2 1811.2 805.2C1812.7 800.2 1816.9 791.3 1820 782.5C1823.1 773.7 1826.7 762.9 1830 752.5C1833.3 742.1 1837.1 730.4 1840 720C1842.9 709.6 1845 700.4 1847.5 690C1850 679.6 1852.5 667.9 1855 657.5C1857.5 647.1 1860 637.5 1862.5 627.5C1865 617.5 1867.5 607.1 1870 597.5C1872.5 587.9 1875 579.2 1877.5 570C1880 560.8 1882.5 551.7 1885 542.5C1887.5 533.3 1890 524.2 1892.5 515C1895 505.8 1897.5 496.2 1900 487.5C1902.5 478.8 1905 470 1907.5 462.5C1910 455 1912.8 448.1 1915 442.5C1917.2 436.9 1918.9 432.9 1920.5 428.8C1922.1 424.6 1924.1 419.4 1924.8 417.6"/>
<path class="curve" style="stroke-width:7.8" stroke="#03a864" d="M1449.7 416.9C1449.9 418.8 1450.4 422 1451.2 428.8C1452.1 435.5 1453.5 446.5 1455 457.5C1456.5 468.5 1458.3 482.5 1460 495C1461.7 507.5 1463.3 520 1465 532.5C1466.7 545 1468.3 557.5 1470 570C1471.7 582.5 1473.3 595 1475 607.5C1476.7 620 1478.3 632.5 1480 645C1481.7 657.5 1483.3 670 1485 682.5C1486.7 695 1488.3 708.3 1490 720C1491.7 731.7 1493.3 742.1 1495 752.5C1496.7 762.9 1498.5 773.8 1500 782.5C1501.5 791.2 1502.7 797.1 1503.8 805C1504.8 812.9 1505.2 821.7 1506.2 830C1507.3 838.3 1508.8 846.7 1510 855C1511.2 863.3 1512.5 871.7 1513.8 880C1515 888.3 1516 896.7 1517.5 905C1519 913.3 1520.8 921.7 1522.5 930C1524.2 938.3 1525.8 946.7 1527.5 955C1529.2 963.3 1530.8 971.7 1532.5 980C1534.2 988.3 1535.8 996.7 1537.5 1005C1539.2 1013.3 1540.8 1022.5 1542.5 1030C1544.2 1037.5 1545.8 1043.3 1547.5 1050C1549.2 1056.7 1550.6 1063.3 1552.5 1070C1554.4 1076.7 1556.9 1083.8 1558.8 1090C1560.6 1096.2 1562.1 1101.2 1563.8 1107.5C1565.4 1113.8 1567.1 1121.7 1568.8 1127.5C1570.4 1133.3 1572.1 1139.2 1573.8 1142.5C1575.4 1145.8 1577.1 1147.1 1578.8 1147.5C1580.4 1147.9 1581.9 1144.2 1583.8 1145C1585.6 1145.8 1587.9 1149.6 1590 1152.5C1592.1 1155.4 1594 1160.4 1596.2 1162.5C1598.5 1164.6 1601.2 1165 1603.8 1165C1606.2 1165 1609.2 1164.6 1611.2 1162.5C1613.3 1160.4 1615 1157.1 1616.2 1152.5C1617.5 1147.9 1617.9 1139.6 1618.8 1135C1619.6 1130.4 1619.6 1128.3 1621.2 1125C1622.9 1121.7 1626.5 1119.6 1628.8 1115C1631 1110.4 1633.1 1103.3 1635 1097.5C1636.9 1091.7 1638.3 1085.8 1640 1080C1641.7 1074.2 1643.5 1068.8 1645 1062.5C1646.5 1056.2 1647.9 1049.2 1648.8 1042.5C1649.6 1035.8 1649.4 1029.2 1650 1022.5C1650.6 1015.8 1651.2 1009.2 1652.5 1002.5C1653.8 995.8 1655.8 989.2 1657.5 982.5C1659.2 975.8 1660.8 969.6 1662.5 962.5C1664.2 955.4 1665.8 948.3 1667.5 940C1669.2 931.7 1670.8 922.1 1672.5 912.5C1674.2 902.9 1676 891.7 1677.5 882.5C1679 873.3 1680 865 1681.2 857.5C1682.5 850 1683.1 842.5 1685 837.5C1686.9 832.5 1690.6 831.7 1692.5 827.5C1694.4 823.3 1695.4 816.2 1696.2 812.5C1697.1 808.8 1696 812.3 1697.5 805.2C1699 798.2 1702.5 781.3 1705 770C1707.5 758.7 1710 747.9 1712.5 737.5C1715 727.1 1717.5 717.1 1720 707.5C1722.5 697.9 1724.6 689.2 1727.5 680C1730.4 670.8 1734.2 660.8 1737.5 652.5C1740.8 644.2 1744.2 637.5 1747.5 630C1750.8 622.5 1753.8 615.4 1757.5 607.5C1761.2 599.6 1765.8 590 1770 582.5C1774.2 575 1778.3 569.6 1782.5 562.5C1786.7 555.4 1791.2 547.1 1795 540C1798.8 532.9 1802.5 524.2 1805 520C1807.5 515.8 1807.1 519.2 1810 515C1812.9 510.8 1818.3 502.1 1822.5 495C1826.7 487.9 1830.8 480 1835 472.5C1839.2 465 1843.3 457.3 1847.5 450C1851.7 442.7 1856.9 434 1860 428.8C1863.1 423.5 1865 420.1 1866 418.3"/>
<path class="curve" style="stroke-width:7.8" stroke="#9d79ae" d="M1403.4 417.5C1404.1 419.4 1405.6 423.7 1407.5 428.8C1409.4 433.8 1412.5 440.6 1415 447.5C1417.5 454.4 1420 462.1 1422.5 470C1425 477.9 1427.5 486.7 1430 495C1432.5 503.3 1435.2 512.9 1437.5 520C1439.8 527.1 1441.9 532.9 1443.8 537.5C1445.6 542.1 1447.3 543.3 1448.8 547.5C1450.2 551.7 1451 557.1 1452.5 562.5C1454 567.9 1455.4 574.6 1457.5 580C1459.6 585.4 1462.9 589.2 1465 595C1467.1 600.8 1468.1 609.2 1470 615C1471.9 620.8 1474.2 626.2 1476.2 630C1478.3 633.8 1480.6 633.8 1482.5 637.5C1484.4 641.2 1485.8 647.5 1487.5 652.5C1489.2 657.5 1490.6 662.5 1492.5 667.5C1494.4 672.5 1496.5 679 1498.8 682.5C1501 686 1504.2 685.8 1506.2 688.8C1508.3 691.7 1509.4 695.6 1511.2 700C1513.1 704.4 1515.4 710.4 1517.5 715C1519.6 719.6 1521.7 724.2 1523.8 727.5C1525.8 730.8 1527.7 733.5 1530 735C1532.3 736.5 1535 734.6 1537.5 736.2C1540 737.9 1542.5 742.1 1545 745C1547.5 747.9 1550 751.7 1552.5 753.8C1555 755.8 1557.5 757.5 1560 757.5C1562.5 757.5 1565 753.3 1567.5 753.8C1570 754.2 1572.1 758.3 1575 760C1577.9 761.7 1581.9 763.5 1585 763.8C1588.1 764 1591.5 763.3 1593.8 761.2C1596 759.2 1596.5 753.5 1598.8 751.2C1601 749 1604.4 749.2 1607.5 747.5C1610.6 745.8 1614.2 744.2 1617.5 741.2C1620.8 738.3 1624.2 734.4 1627.5 730C1630.8 725.6 1634.2 720.8 1637.5 715C1640.8 709.2 1644.2 702.1 1647.5 695C1650.8 687.9 1654.2 680.4 1657.5 672.5C1660.8 664.6 1664.2 656.7 1667.5 647.5C1670.8 638.3 1674.2 627.5 1677.5 617.5C1680.8 607.5 1684.6 596.2 1687.5 587.5C1690.4 578.8 1692.5 572.5 1695 565C1697.5 557.5 1700 549.2 1702.5 542.5C1705 535.8 1707.1 529.6 1710 525C1712.9 520.4 1716.7 519.6 1720 515C1723.3 510.4 1726.7 502.5 1730 497.5C1733.3 492.5 1736.2 489.2 1740 485C1743.8 480.8 1748.3 476 1752.5 472.5C1756.7 469 1760.4 466.2 1765 463.8C1769.6 461.2 1775 459.4 1780 457.5C1785 455.6 1790 454.4 1795 452.5C1800 450.6 1805.8 448.1 1810 446.2C1814.2 444.4 1815.8 443.3 1820 441.2C1824.2 439.2 1831 435.8 1835 433.8C1839 431.7 1840.5 430.5 1843.8 428.8C1847 427 1852.6 424.1 1854.4 423.2"/>
<path class="curve" style="stroke-width:7.8" stroke="#dc8920" d="M1456.3 417.8C1457.1 419.6 1459 423.4 1461.2 428.8C1463.5 434.1 1466.9 443.1 1470 450C1473.1 456.9 1476.7 463.3 1480 470C1483.3 476.7 1486.7 483.8 1490 490C1493.3 496.2 1496.7 501.7 1500 507.5C1503.3 513.3 1506.7 519.2 1510 525C1513.3 530.8 1516.7 537.1 1520 542.5C1523.3 547.9 1526.7 552.5 1530 557.5C1533.3 562.5 1536.7 568.3 1540 572.5C1543.3 576.7 1546.7 579.2 1550 582.5C1553.3 585.8 1557.1 589 1560 592.5C1562.9 596 1565 601.7 1567.5 603.8C1570 605.8 1572.7 603.3 1575 605C1577.3 606.7 1578.8 612.1 1581.2 613.8C1583.8 615.4 1587.1 613.8 1590 615C1592.9 616.2 1595.8 620.6 1598.8 621.2C1601.7 621.9 1604.4 619.2 1607.5 618.8C1610.6 618.3 1614.2 618.1 1617.5 618.8C1620.8 619.4 1624.2 622.7 1627.5 622.5C1630.8 622.3 1634.2 618.3 1637.5 617.5C1640.8 616.7 1644.6 619 1647.5 617.5C1650.4 616 1652.1 610.8 1655 608.8C1657.9 606.7 1661.7 606.9 1665 605C1668.3 603.1 1672.1 600.8 1675 597.5C1677.9 594.2 1680.8 588.8 1682.5 585C1684.2 581.2 1682.9 578.3 1685 575C1687.1 571.7 1691.7 568.8 1695 565C1698.3 561.2 1702.1 556.2 1705 552.5C1707.9 548.8 1710.6 546.7 1712.5 542.5C1714.4 538.3 1714.2 530.8 1716.2 527.5C1718.3 524.2 1722.5 523.8 1725 522.5C1727.5 521.2 1729.2 518.5 1731.2 520C1733.3 521.5 1734 529.4 1737.5 531.2C1741 533.1 1745.8 531.2 1752.5 531.2C1759.2 531.2 1771.2 530.4 1777.5 531.2C1783.8 532.1 1785.8 534.8 1790 536.2C1794.2 537.7 1798.3 538.8 1802.5 540C1806.7 541.2 1811.7 542.7 1815 543.8C1818.3 544.8 1818.3 545.2 1822.5 546.2C1826.7 547.3 1834.6 549 1840 550C1845.4 551 1849.6 552.1 1855 552.5C1860.4 552.9 1867.1 552.9 1872.5 552.5C1877.9 552.1 1882.5 552.9 1887.5 550C1892.5 547.1 1897.9 537.5 1902.5 535C1907.1 532.5 1911.2 536.7 1915 535C1918.8 533.3 1921.9 528.8 1925 525C1928.1 521.2 1930.8 514.2 1933.8 512.5C1936.7 510.8 1939.4 516.7 1942.5 515C1945.6 513.3 1949.2 507.3 1952.5 502.5C1955.8 497.7 1959.2 489.2 1962.5 486.2C1965.8 483.3 1969.2 488.1 1972.5 485C1975.8 481.9 1979.2 472.9 1982.5 467.5C1985.8 462.1 1989.2 455.4 1992.5 452.5C1995.8 449.6 1999.6 453.1 2002.5 450C2005.4 446.9 2008.3 437.3 2010 433.8C2011.7 430.2 2011.2 431.4 2012.5 428.8C2013.8 426.1 2016.8 419.7 2017.6 417.9"/>
</g>
<g id="inset-axes" stroke="#0b0b06" fill="none" stroke-width="2.9">
<line x1="1298.6" y1="428.5" x2="1298.6" y2="1190.7"/>
<line x1="1297" y1="1189.3" x2="2108" y2="1189.3"/>
<line x1="1298" y1="552.8" x2="1310.5" y2="552.8"/>
<line x1="1298" y1="727.6" x2="1310.5" y2="727.6"/>
<line x1="1298" y1="905" x2="1310.5" y2="905"/>
<line x1="1298" y1="1082.3" x2="1310.5" y2="1082.3"/>
<line x1="1298" y1="463" x2="1305" y2="463"/>
<line x1="1298" y1="640.2" x2="1305" y2="640.2"/>
<line x1="1298" y1="817.5" x2="1305" y2="817.5"/>
<line x1="1298" y1="992.5" x2="1305" y2="992.5"/>
<line x1="1298" y1="1170.5" x2="1305" y2="1170.5"/>
<line x1="1372.8" y1="1177" x2="1372.8" y2="1189"/>
<line x1="1532.4" y1="1177" x2="1532.4" y2="1189"/>
<line x1="1692" y1="1177" x2="1692" y2="1189"/>
<line x1="1851.6" y1="1177" x2="1851.6" y2="1189"/>
<line x1="2011.2" y1="1177" x2="2011.2" y2="1189"/>
<line x1="1452.6" y1="1182" x2="1452.6" y2="1189"/>
<line x1="1612.2" y1="1182" x2="1612.2" y2="1189"/>
<line x1="1771.8" y1="1182" x2="1771.8" y2="1189" stroke="#c9c8c6"/>
<line x1="1931.4" y1="1182" x2="1931.4" y2="1189"/>
<line x1="2091" y1="1182" x2="2091" y2="1189"/>
</g>
<g id="inset-labels">
<text class="itk" text-anchor="end" x="1281.5" y="565.6">−5</text>
<text class="itk" text-anchor="end" x="1281.5" y="740.4">−6</text>
<text class="itk" text-anchor="end" x="1281.5" y="917.8">−7</text>
<text class="itk" text-anchor="end" x="1281.5" y="1095.1">−8</text>
<text class="itk" text-anchor="middle" x="1372.8" y="1242">180</text>
<text class="itk" text-anchor="middle" x="1532.4" y="1242">190</text>
<text class="itk" text-anchor="middle" x="1692" y="1242">200</text>
<text class="itk" text-anchor="middle" x="1851.6" y="1242">210</text>
<text class="itk" text-anchor="middle" x="2011.2" y="1242">220</text>
<text class="ittl" text-anchor="middle" x="1701.5" y="1298.75">temperature <tspan font-weight="normal">(°C)</tspan></text>
</g>
</svg>
</body></html>
